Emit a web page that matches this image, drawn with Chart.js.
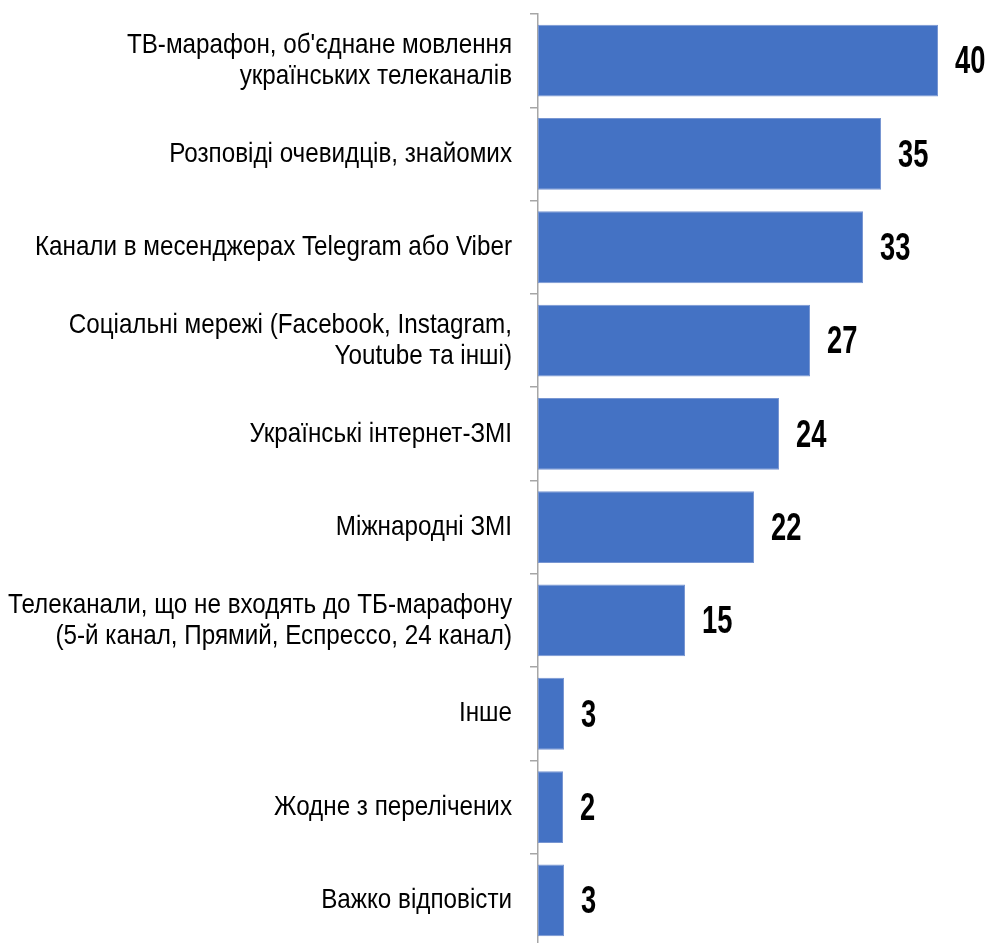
<!DOCTYPE html>
<html>
<head>
<meta charset="utf-8">
<script src="https://cdn.jsdelivr.net/npm/chart.js@4"></script>
<style>
    html, body { margin: 0; padding: 0; background: #fff; overflow: hidden; }
    #wrap { position: relative; width: 992px; height: 947px; }
</style>
</head>
<body>
<div id="wrap"><canvas id="chart"></canvas></div>
<script>
        // Categories (top to bottom)
        const categories = [
            ['ТВ-марафон, об\'єднане мовлення', 'українських телеканалів'],
            ['Розповіді очевидців, знайомих'],
            ['Канали в месенджерах Telegram або Viber'],
            ['Соціальні мережі (Facebook, Instagram,', 'Youtube та інші)'],
            ['Українські інтернет-ЗМІ'],
            ['Міжнародні ЗМІ'],
            ['Телеканали, що не входять до ТБ-марафону', '(5-й канал, Прямий, Еспрессо, 24 канал)'],
            ['Інше'],
            ['Жодне з перелічених'],
            ['Важко відповісти']
        ];

        // Bar lengths
        const values = [40.0, 34.3, 32.5, 27.2, 24.1, 21.6, 14.7, 2.6, 2.5, 2.6];

        // Numbers printed next to the bars
        const valueLabels = ['40', '35', '33', '27', '24', '22', '15', '3', '2', '3'];

        const fontFamily = '"Liberation Sans", Arial, sans-serif';

        // Category labels drawn narrow (the original uses a condensed face)
        const categoryLabelPlugin = {
            id: 'categoryLabels',
            afterDraw(chart) {
                const ctx = chart.ctx;
                const yScale = chart.scales.y;
                const right = 512;
                const squeeze = 0.865;
                const lineH = 31;
                ctx.save();
                ctx.fillStyle = '#000';
                ctx.font = '28px ' + fontFamily;
                ctx.textAlign = 'right';
                ctx.textBaseline = 'middle';
                categories.forEach((lines, i) => {
                    const cy = yScale.getPixelForValue(i);
                    lines.forEach((line, j) => {
                        const y = cy + (j - (lines.length - 1) / 2) * lineH;
                        ctx.save();
                        ctx.translate(right, y);
                        ctx.scale(squeeze, 1);
                        ctx.fillText(line, 0, 0);
                        ctx.restore();
                    });
                });
                ctx.restore();
            }
        };

        // Value labels to the right of each bar
        const valueLabelPlugin = {
            id: 'valueLabels',
            afterDatasetsDraw(chart) {
                const ctx = chart.ctx;
                const meta = chart.getDatasetMeta(0);
                ctx.save();
                ctx.fillStyle = '#000';
                ctx.font = 'bold 39px ' + fontFamily;
                ctx.textAlign = 'left';
                ctx.textBaseline = 'middle';
                meta.data.forEach((bar, i) => {
                    ctx.save();
                    ctx.translate(bar.x + 17, bar.y + 2);
                    ctx.scale(0.7, 1);
                    ctx.fillText(valueLabels[i], 0, 0);
                    ctx.restore();
                });
                ctx.restore();
            }
        };

        new Chart(document.getElementById('chart'), {
            type: 'bar',
            data: {
                labels: categories.map(c => c.join(' ')),
                datasets: [{
                    data: values,
                    backgroundColor: '#4472C4',
                    borderColor: '#7896d2',
                    borderWidth: 1,
                    borderSkipped: false,
                    categoryPercentage: 1,
                    barPercentage: 0.77
                }]
            },
            options: {
                indexAxis: 'y',
                responsive: true,
                maintainAspectRatio: false,
                animation: false,
                layout: {
                    padding: { top: 14, right: 0, bottom: 0, left: 0 }
                },
                plugins: {
                    legend: { display: false },
                    tooltip: { enabled: false }
                },
                scales: {
                    x: {
                        display: false,
                        min: 0,
                        max: 45.4
                    },
                    y: {
                        afterFit(scale) {
                            scale.width = 538;
                            scale.paddingTop = 0;
                            scale.paddingBottom = 0;
                        },
                        grid: {
                            drawOnChartArea: false,
                            drawTicks: true,
                            tickLength: 8,
                            color: '#a6a6a6',
                            lineWidth: 1.5
                        },
                        border: {
                            display: true,
                            color: '#a6a6a6',
                            width: 1.5
                        },
                        ticks: {
                            color: 'rgba(0,0,0,0)',
                            font: { size: 10 }
                        }
                    }
                }
            },
            plugins: [valueLabelPlugin, categoryLabelPlugin]
        });
</script>
</body>
</html>
